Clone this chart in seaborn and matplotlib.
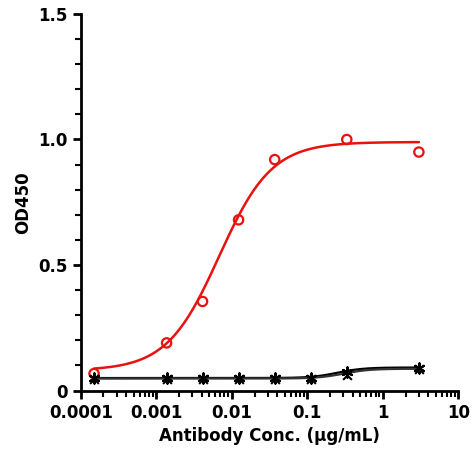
import numpy as np
import matplotlib
matplotlib.use("Agg")
import matplotlib.pyplot as plt
import seaborn as sns
from matplotlib.ticker import LogLocator, MultipleLocator

conc = [3.0, 0.333, 0.037, 0.0123, 0.0041, 0.00137, 0.00015]
od_red = [0.95, 1.00, 0.92, 0.68, 0.355, 0.19, 0.068]
conc_b = [3.0, 0.333, 0.111, 0.037, 0.0123, 0.0041, 0.00137, 0.00015]
od_star = [0.09, 0.075, 0.05, 0.05, 0.05, 0.05, 0.05, 0.05]
od_x = [0.085, 0.062, 0.048, 0.048, 0.048, 0.048, 0.048, 0.048]

# 4PL fit parameters (estimated)
red_p = (0.08, 0.99, 0.0068, 1.25)
star_p = (0.05, 0.092, 0.25, 2.5)
x_p = (0.048, 0.087, 0.3, 2.5)

def fpl(x, p):
    b, t, ec, h = p
    return b + (t - b) / (1 + (ec / x) ** h)

sns.set_style("ticks")
plt.rcParams["text.color"] = "black"
plt.rcParams["axes.labelcolor"] = "black"
plt.rcParams["xtick.color"] = "black"
plt.rcParams["ytick.color"] = "black"
plt.rcParams["axes.edgecolor"] = "black"
fig, ax = plt.subplots(figsize=(4.75, 4.65), dpi=100)
xs = np.logspace(np.log10(0.00015), np.log10(3), 300)
sns.lineplot(x=xs, y=fpl(xs, red_p), color="#e8120f", lw=1.8, ax=ax)
sns.lineplot(x=xs, y=fpl(xs, star_p), color="black", lw=1.6, ax=ax)
sns.lineplot(x=xs, y=fpl(xs, x_p), color="#333333", lw=1.6, ax=ax)
sns.scatterplot(x=conc, y=od_red, marker="o", s=45, facecolors="none", edgecolor="#e8120f", linewidth=1.6, ax=ax, zorder=5)
sns.scatterplot(x=conc_b, y=od_star, marker=(6, 2, 0), s=55, color="black", linewidth=1.5, ax=ax, zorder=5)
sns.scatterplot(x=conc_b, y=od_x, marker="x", s=40, color="black", linewidth=1.5, ax=ax, zorder=5)

ax.set_xscale("log")
ax.set_xlim(0.0001, 10)
ax.set_ylim(0, 1.5)
ax.set_xticks([0.0001, 0.001, 0.01, 0.1, 1, 10])
ax.set_xticklabels(["0.0001", "0.001", "0.01", "0.1", "1", "10"])
ax.xaxis.set_minor_locator(LogLocator(base=10, subs=np.arange(2, 10)))
ax.xaxis.set_minor_formatter(plt.NullFormatter())
ax.set_yticks([0, 0.5, 1.0, 1.5])
ax.set_yticklabels(["0", "0.5", "1.0", "1.5"])
ax.yaxis.set_minor_locator(MultipleLocator(0.1))
for s in ["top", "right"]:
    ax.spines[s].set_visible(False)
for s in ["left", "bottom"]:
    ax.spines[s].set_linewidth(2)
ax.tick_params(which="major", width=2, length=6, labelsize=12)
ax.tick_params(which="minor", width=1.5, length=4)
for lab in ax.get_xticklabels() + ax.get_yticklabels():
    lab.set_fontweight("bold")
ax.set_xlabel("Antibody Conc. (μg/mL)", fontsize=12, fontweight="bold")
ax.set_ylabel("OD450", fontsize=12, fontweight="bold")
fig.subplots_adjust(left=0.17, right=0.965, top=0.97, bottom=0.16)
fig.savefig("out.png", dpi=100)
